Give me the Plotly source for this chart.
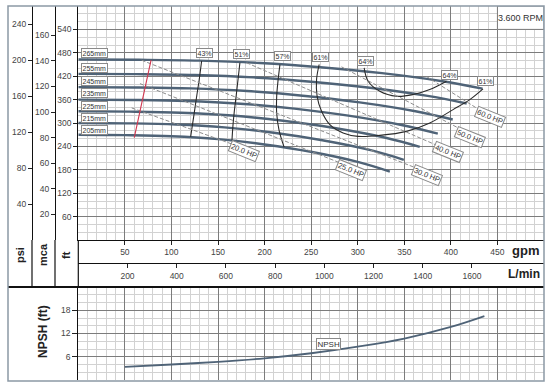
import plotly.graph_objects as go

# ---------------- data ----------------
gpm_ticks = [50, 100, 150, 200, 250, 300, 350, 400, 450]
lpm_ticks = [200, 400, 600, 800, 1000, 1200, 1400, 1600]
ft_ticks = [60, 120, 180, 240, 300, 360, 420, 480, 540]
mca_ticks = [20, 40, 60, 80, 100, 120, 140, 160]
psi_ticks = [40, 80, 120, 160, 200, 240]
npsh_ticks = [6, 12, 18]

diam_names = ["265mm", "255mm", "245mm", "235mm", "225mm", "215mm", "205mm"]
q_265 = [0, 65, 130, 195, 260, 326, 391, 434]
h_265 = [463, 462.2, 460, 454, 443.1, 427.8, 407.1, 388]
q_255 = [0, 62.6, 125, 188, 250, 313, 375, 417]
h_255 = [426, 425.2, 423, 416.9, 405.9, 390.3, 369.4, 350]
q_245 = [0, 60, 121, 181, 241, 302, 362, 402]
h_245 = [392, 391.2, 388.7, 382, 370, 353, 330.2, 309]
q_235 = [0, 58, 116, 174, 232, 290, 347, 386]
h_235 = [360, 359.1, 356.5, 349.5, 336.8, 318.9, 294.9, 272.6]
q_225 = [0, 55, 110, 165, 220, 275, 330, 366.6]
h_225 = [330, 329.1, 326.4, 319.1, 305.9, 287.2, 262.2, 239]
q_215 = [0, 52.4, 105, 157, 210, 262, 315, 349.5]
h_215 = [300, 299.1, 296.2, 288.7, 275, 255.7, 229.7, 205.7]
q_205 = [0, 50, 100, 150, 200, 251, 301, 334.5]
h_205 = [270, 269, 266.2, 258.7, 245, 225.6, 199.7, 175.6]
diam_label_q = [17.6, 17.6, 17.6, 17.6, 17.6, 17.6, 17.6]
diam_label_h = [480, 441.5, 407, 377.2, 342.8, 313, 282.9]

# iso-efficiency lines
eff43_q = [132.4, 129.8, 127.1, 124.5, 120.6]
eff43_h = [459, 411, 368.5, 326, 264.5]
eff51_q = [173.5, 171.5, 169.5, 167.5, 166, 165]
eff51_h = [454.5, 412, 370, 330, 292, 256]
eff57_q = [216.5, 214.5, 213, 213, 215.5, 221]
eff57_h = [449.5, 410, 368, 325, 282, 238]
eff61_q = [258.6, 255.8, 256.4, 261.2, 270.1, 284.3, 300.4, 323.7, 352.4, 377.4, 402.4, 420.3, 434.5]
eff61_h = [450, 411.4, 368.5, 329.9, 295.7, 274.4, 265.6, 268.2, 278.5, 300.1, 334.3, 360, 387.5]
eff64_q = [306.9, 311.2, 323.7, 341.6, 359.4, 377.3, 395.3]
eff64_h = [441.5, 407, 381.3, 368.5, 372.9, 385.7, 407]
eff_label_text = ["43%", "51%", "57%", "61%", "64%", "64%", "61%"]
eff_label_q = [136, 175.3, 219.3, 260, 308.7, 398.8, 436.7]
eff_label_h = [480, 475.7, 473, 469.8, 458.5, 424.3, 407]

# power (HP) lines
hp20_q = [57.3, 167]
hp20_h = [338.7, 244.3]
hp25_q = [66.2, 280.8]
hp25_h = [401, 198]
hp30_q = [68, 362.3]
hp30_h = [461, 185]
hp40_q = [180.7, 386]
hp40_h = [454.4, 241.7]
hp50_q = [282.6, 409.5]
hp50_h = [444, 285.4]
hp60_q = [374, 432]
hp60_h = [419, 331.7]
hp_label_text = ["20.0 HP", "25.0 HP", "30.0 HP", "40.0 HP", "50.0 HP", "60.0 HP"]
hp_label_q = [177.8, 292.6, 374.1, 397, 420.3, 442.5]
hp_label_h = [228.9, 180, 167.1, 226.3, 264.9, 315.5]

# minimum flow line
minflow_q = [78.1, 60.1]
minflow_h = [461, 262.8]

# NPSH
npsh_q = [50, 100, 150, 200, 250, 300, 350, 400, 436]
npsh_v = [3.4, 4.0, 4.7, 5.6, 6.9, 8.6, 10.7, 13.7, 16.5]

# ---------------- styling ----------------
W, H = 554, 388
FONT = "Liberation Sans, Arial, sans-serif"
CURVE_C = "#4f6377"
MAJOR = "#7c7c7c"
MINOR = "#d2d2d2"
TXT = "#444444"

def px(xp):
    return xp / W

def py(yp):
    return (H - yp) / H

x_dom = [px(78.3), px(544)]
y_main = [py(240), py(6)]
y_npsh = [py(380), py(287)]

fig = go.Figure()

curves = [(q_265, h_265), (q_255, h_255), (q_245, h_245), (q_235, h_235),
          (q_225, h_225), (q_215, h_215), (q_205, h_205)]
for q, h in curves:
    fig.add_trace(go.Scatter(x=q, y=h, mode="lines", line=dict(color=CURVE_C, width=2.4, shape="spline"),
                             hoverinfo="skip"))

for q, h in [(eff43_q, eff43_h), (eff51_q, eff51_h), (eff57_q, eff57_h), (eff61_q, eff61_h), (eff64_q, eff64_h)]:
    fig.add_trace(go.Scatter(x=q, y=h, mode="lines", line=dict(color="#2b2b2b", width=1.1, shape="spline"),
                             hoverinfo="skip"))

for q, h in [(hp20_q, hp20_h), (hp25_q, hp25_h), (hp30_q, hp30_h), (hp40_q, hp40_h), (hp50_q, hp50_h), (hp60_q, hp60_h)]:
    fig.add_trace(go.Scatter(x=q, y=h, mode="lines", line=dict(color="#8c8c8c", width=1, dash="4px,2px"),
                             hoverinfo="skip"))

fig.add_trace(go.Scatter(x=minflow_q, y=minflow_h, mode="lines", line=dict(color="#d2364f", width=1.1),
                         hoverinfo="skip"))

fig.add_trace(go.Scatter(x=npsh_q, y=npsh_v, mode="lines", xaxis="x2", yaxis="y2",
                         line=dict(color=CURVE_C, width=1.8, shape="spline"), hoverinfo="skip"))

# dummy traces so the extra axes render
fig.add_trace(go.Scatter(x=[None], y=[None], xaxis="x", yaxis="y3", showlegend=False))
fig.add_trace(go.Scatter(x=[None], y=[None], xaxis="x", yaxis="y4", showlegend=False))
fig.add_trace(go.Scatter(x=[None], y=[None], xaxis="x3", yaxis="y", showlegend=False))

def minor_vals(lo, hi, step, major_step):
    return [v for v in range(lo, hi + 1, step) if v % major_step != 0]

tickfont = dict(family=FONT, size=8.5, color=TXT)

fig.update_layout(
    width=W, height=H, margin=dict(l=0, r=0, t=0, b=0), autosize=False,
    paper_bgcolor="white", plot_bgcolor="white", showlegend=False,
    font=dict(family=FONT, color=TXT),
    xaxis=dict(domain=x_dom, range=[0, 500], anchor="y",
               tickmode="array", tickvals=gpm_ticks, ticks="outside", ticklen=4, tickcolor="#222",
               tickfont=tickfont, showgrid=True, gridcolor=MAJOR, gridwidth=1,
               minor=dict(tickvals=minor_vals(0, 500, 10, 50), showgrid=True, gridcolor=MINOR, gridwidth=1, ticks=""),
               showline=True, linecolor="#111", linewidth=1, zeroline=False),
    yaxis=dict(domain=y_main, range=[0, 600], anchor="x",
               tickmode="array", tickvals=ft_ticks, ticks="outside", ticklen=4, tickcolor="#222",
               tickfont=tickfont, showgrid=True, gridcolor=MAJOR, gridwidth=1,
               minor=dict(tickvals=minor_vals(0, 600, 20, 60), showgrid=True, gridcolor=MINOR, gridwidth=1, ticks=""),
               showline=True, linecolor="#111", linewidth=1.2, zeroline=False),
    yaxis3=dict(overlaying="y", anchor="free", position=px(55), side="left",
                range=[0, 600 / 3.28084], tickmode="array", tickvals=mca_ticks,
                ticks="outside", ticklen=4, tickcolor="#222", tickfont=tickfont,
                showgrid=False, zeroline=False, showline=True, linecolor="#111", linewidth=1.2),
    yaxis4=dict(overlaying="y", anchor="free", position=px(32), side="left",
                range=[0, 600 * 0.4335], tickmode="array", tickvals=psi_ticks,
                ticks="outside", ticklen=4, tickcolor="#222", tickfont=tickfont,
                showgrid=False, zeroline=False, showline=True, linecolor="#111", linewidth=1.2),
    xaxis3=dict(overlaying="x", anchor="free", position=py(263.3), side="bottom",
                range=[0, 500 * 3.78541], tickmode="array", tickvals=lpm_ticks,
                ticks="outside", ticklen=4, tickcolor="#222", tickfont=tickfont,
                showgrid=False, zeroline=False, showline=True, linecolor="#111", linewidth=1),
    xaxis2=dict(domain=x_dom, range=[0, 500], anchor="y2",
                tickmode="array", tickvals=gpm_ticks, showticklabels=False, ticks="",
                showgrid=True, gridcolor=MAJOR, gridwidth=1,
                minor=dict(tickvals=minor_vals(0, 500, 10, 50), showgrid=True, gridcolor=MINOR, gridwidth=1, ticks=""),
                showline=False, zeroline=False),
    yaxis2=dict(domain=y_npsh, range=[0, 24], anchor="x2",
                tickmode="array", tickvals=npsh_ticks, ticks="outside", ticklen=5, tickcolor="#222",
                tickfont=tickfont, showgrid=True, gridcolor=MAJOR, gridwidth=1,
                minor=dict(tickvals=minor_vals(0, 24, 2, 6), showgrid=True, gridcolor=MINOR, gridwidth=1, ticks=""),
                showline=True, linecolor="#111", linewidth=1.2, zeroline=False),
)

shapes = []
# RPM box (covers the grid in the top-right cell)
shapes.append(dict(type="rect", xref="x", yref="y", x0=450, x1=500, y0=540, y1=600,
                   fillcolor="white", line=dict(color=MAJOR, width=1), layer="above"))
# column separators extended through the axis band
for xp in [32, 55, 78.3]:
    shapes.append(dict(type="line", xref="paper", yref="paper", x0=px(xp), x1=px(xp),
                       y0=py(287), y1=py(240), line=dict(color="#111", width=1.2)))
# thick separator
shapes.append(dict(type="line", xref="paper", yref="paper", x0=px(8), x1=px(544),
                   y0=py(287), y1=py(287), line=dict(color="#111", width=2.2)))
# outer frame
shapes.append(dict(type="rect", xref="paper", yref="paper", x0=px(8), x1=px(544),
                   y0=py(381), y1=py(6), line=dict(color="#8c99a5", width=1.5)))
fig.update_layout(shapes=shapes)

ann = []
box = dict(bgcolor="white", bordercolor="#8a8a8a", borderwidth=1, borderpad=0.5, showarrow=False,
           xanchor="center", yanchor="middle")
for t, q, h in zip(diam_names, diam_label_q, diam_label_h):
    ann.append(dict(x=q, y=h, xref="x", yref="y", text=t, font=dict(size=7, color="#333"), **box))
for t, q, h in zip(eff_label_text, eff_label_q, eff_label_h):
    ann.append(dict(x=q, y=h, xref="x", yref="y", text=t, font=dict(size=7, color="#333"), **box))
for t, q, h in zip(hp_label_text, hp_label_q, hp_label_h):
    ann.append(dict(x=q, y=h, xref="x", yref="y", text=t, textangle=22,
                    font=dict(size=7.5, color="#333"), **box))
ann.append(dict(x=269, y=9.3, xref="x2", yref="y2", text="NPSH", font=dict(size=8, color="#333"), **box))
ann.append(dict(x=475, y=570, xref="x", yref="y", text="3.600 RPM", showarrow=False,
                xanchor="center", yanchor="middle", font=dict(size=9, color="#333")))
ann.append(dict(x=px(541), y=py(251), xref="paper", yref="paper", xanchor="right", yanchor="middle",
                text="<b>gpm</b>", showarrow=False, font=dict(size=13, color="#222")))
ann.append(dict(x=px(542), y=py(274), xref="paper", yref="paper", xanchor="right", yanchor="middle",
                text="<b>L/min</b>", showarrow=False, font=dict(size=12, color="#222")))
for t, xp in [("psi", 20), ("mca", 43), ("ft", 66)]:
    ann.append(dict(x=px(xp), y=py(255), xref="paper", yref="paper", text="<b>" + t + "</b>",
                    xanchor="center", yanchor="middle",
                    textangle=-90, showarrow=False, font=dict(size=11, color="#222")))
ann.append(dict(x=px(43), y=py(332), xref="paper", yref="paper", text="<b>NPSH (ft)</b>",
                xanchor="center", yanchor="middle",
                textangle=-90, showarrow=False, font=dict(size=12, color="#222")))
fig.update_layout(annotations=ann)

fig.write_html("out.html", config={"displayModeBar": False},
               post_script="document.body.style.margin='0';document.body.style.padding='0';")
